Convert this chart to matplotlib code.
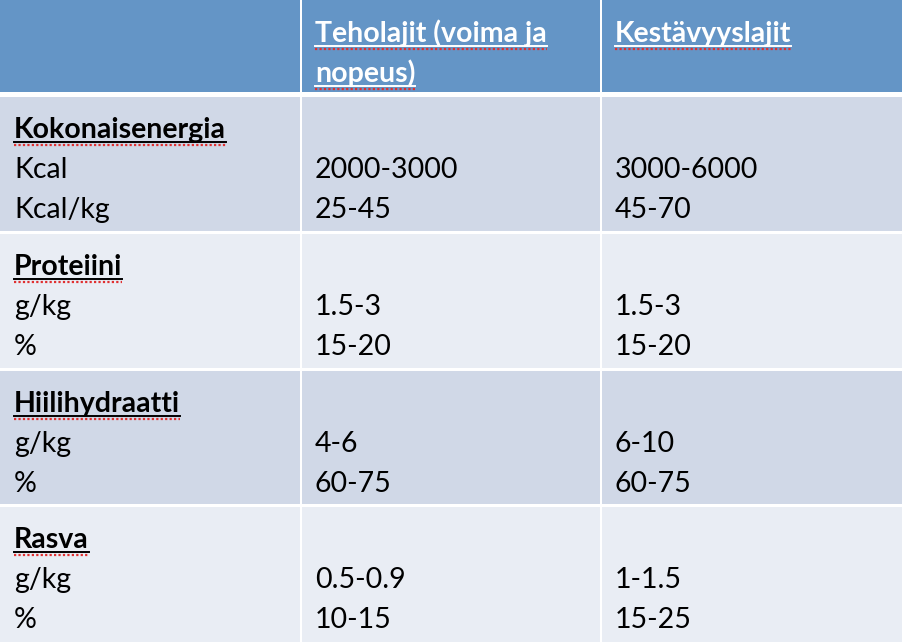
import matplotlib
matplotlib.use("Agg")
import matplotlib.pyplot as plt
from matplotlib.patches import Rectangle

headers = ["", "Teholajit (voima ja\nnopeus)", "Kestävyyslajit"]
groups = ["Kokonaisenergia", "Proteiini", "Hiilihydraatti", "Rasva"]
units = [["Kcal", "Kcal/kg"], ["g/kg", "%"], ["g/kg", "%"], ["g/kg", "%"]]
teho = [["2000-3000", "25-45"], ["1.5-3", "15-20"], ["4-6", "60-75"], ["0.5-0.9", "10-15"]]
kest = [["3000-6000", "45-70"], ["1.5-3", "15-20"], ["6-10", "60-75"], ["1-1.5", "15-25"]]

W, H = 902, 642
fig = plt.figure(figsize=(9.02, 6.42), dpi=100)
ax = fig.add_axes([0, 0, 1, 1])
ax.set_xlim(0, W); ax.set_ylim(H, 0); ax.axis("off")
fig.patch.set_facecolor("white")

colx = [0, 301, 601, W]
rowy = [0, 94, 231, 368, 504, H]
header_c = "#6495C6"
row_c = ["#D0D8E7", "#E9EDF4"]
gap = 2.5
for r in range(5):
    for c in range(3):
        col = header_c if r == 0 else row_c[(r - 1) % 2]
        x0 = colx[c] + (gap/2 if c > 0 else 0)
        x1 = colx[c+1] - (gap/2 if c < 2 else 0)
        y0 = rowy[r] + (gap if r > 0 else 0)
        y1 = rowy[r+1] - (gap if r == 0 else 0)
        ax.add_patch(Rectangle((x0, y0), x1 - x0, y1 - y0, color=col, lw=0))

font = "Lato"
fs = 20.5

def squiggle(x0, x1, y):
    ax.plot([x0, x1], [y, y], color="#E03030", lw=1.6, ls=(0, (1, 1)))

def under_text(x, y, s, color, squig=True):
    t = ax.text(x, y, s, fontsize=fs, fontfamily=font, fontweight="bold",
                color=color, va="baseline", ha="left")
    fig.canvas.draw()
    bb = t.get_window_extent().transformed(ax.transData.inverted())
    x0, x1 = min(bb.x0, bb.x1), max(bb.x0, bb.x1)
    ax.plot([x0, x1], [y + 4, y + 4], color=color, lw=1.4)
    if squig:
        squiggle(x0, x1, y + 7)

# header
under_text(315, 42, "Teholajit (voima ja", "white")
under_text(315, 82, "nopeus)", "white")
under_text(615, 42, headers[2], "white")

for i, g in enumerate(groups):
    top = rowy[i + 1]
    under_text(14, top + 44, g, "black")
    for j in range(2):
        yb = top + 84 + 40 * j
        ax.text(14, yb, units[i][j], fontsize=fs, fontfamily=font, va="baseline")
        ax.text(315, yb, teho[i][j], fontsize=fs, fontfamily=font, va="baseline")
        ax.text(615, yb, kest[i][j], fontsize=fs, fontfamily=font, va="baseline")

fig.savefig("out.png", dpi=100)
